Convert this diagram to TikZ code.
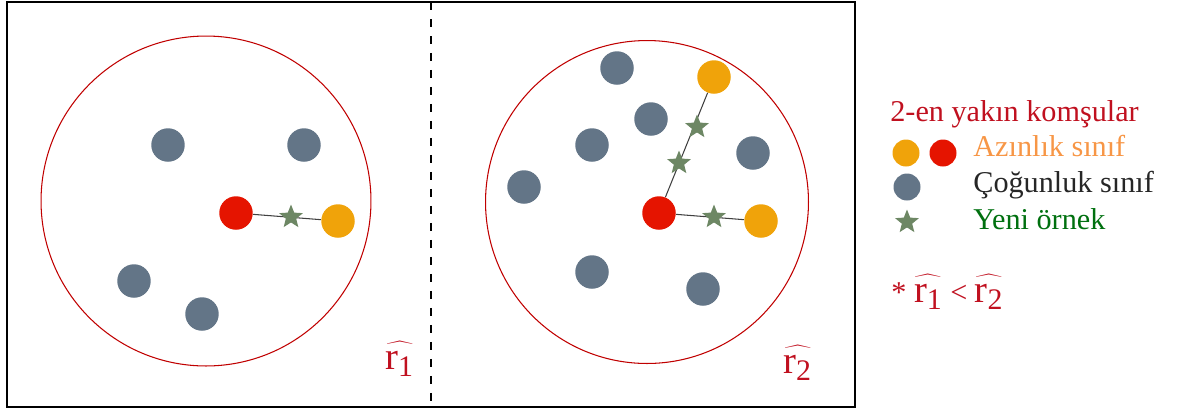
\documentclass[tikz,border=0pt]{standalone}
\usepackage{fontspec}
\setmainfont{Liberation Serif}
\usetikzlibrary{shapes.geometric}

\definecolor{majgray}{HTML}{637587}
\definecolor{minred}{HTML}{E51400}
\definecolor{minorange}{HTML}{F0A30A}
\definecolor{newgreen}{HTML}{6D8764}
\definecolor{ringred}{HTML}{C00000}
\definecolor{labred}{HTML}{C0101F}
\definecolor{laborange}{HTML}{F79646}
\definecolor{labgreen}{HTML}{00700F}

\newcommand{\radius}[1]{$\widehat{\vphantom{\mathrm{t}}\mathrm{r}_{\mbox{\fontsize{17}{20}\selectfont #1}}}$}

\tikzset{
  dot/.style={circle,inner sep=0pt,minimum size=0.67cm},
  smalldot/.style={circle,inner sep=0pt,minimum size=0.54cm},
  majdot/.style={dot,fill=majgray},
  reddot/.style={dot,fill=minred},
  orgdot/.style={dot,fill=minorange},
  newstar/.style={star,star points=5,star point ratio=2.3,fill=newgreen,inner sep=0pt,minimum size=0.5cm},
  link/.style={draw=black!75,line width=0.6pt},
  ring/.style={draw=ringred,line width=0.6pt},
  txt/.style={inner sep=0pt,anchor=base west,font=\fontsize{17.2}{20}\selectfont},
  radtxt/.style={inner sep=0pt,anchor=base west,text=labred,font=\fontsize{22}{26}\selectfont}
}

\begin{document}
\begin{tikzpicture}[x=0.02cm,y=-0.02cm]
\useasboundingbox (0,0) rectangle (1190,414);
\draw[line width=0.04cm] (7,2) rectangle (855,407);
\draw[line width=0.04cm,dash pattern=on 0.16cm off 0.18cm] (431,2) -- (431,407);
% left panel
\draw[ring] (206,201) circle (3.30cm);
\node[majdot] (lmaj1) at (168,145) {};
\node[majdot] (lmaj2) at (304,145) {};
\node[majdot] (lmaj3) at (134,281) {};
\node[majdot] (lmaj4) at (202,314) {};
\node[reddot] (lred) at (236,213) {};
\node[orgdot] (lorg) at (338,221) {};
\draw[link] (lred) -- (lorg);
\node[newstar] (lnew) at (291,217) {};
\node[radtxt] (lrad) at (385,369) {\radius{1}};
% right panel
\draw[ring] (647,202) circle (3.23cm);
\node[majdot] (rmaj1) at (617,68) {};
\node[majdot] (rmaj2) at (651,119) {};
\node[majdot] (rmaj3) at (592,145) {};
\node[majdot] (rmaj4) at (524,187) {};
\node[majdot] (rmaj5) at (753,153) {};
\node[majdot] (rmaj6) at (592,272) {};
\node[majdot] (rmaj7) at (703,289) {};
\node[reddot] (rred) at (659,213) {};
\node[orgdot] (rorgA) at (714,77) {};
\node[orgdot] (rorgB) at (761,221) {};
\draw[link] (rred) -- (rorgA);
\draw[link] (rred) -- (rorgB);
\node[newstar] (rnewA) at (697,127) {};
\node[newstar] (rnewB) at (679,163) {};
\node[newstar] (rnewC) at (714,217) {};
\node[radtxt] (rrad) at (783,373) {\radius{2}};
% legend
\node[txt,text=labred] (legtitle) at (890,121) {2-en yakın komşular};
\node[smalldot,fill=minorange] (legorg) at (906,153) {};
\node[smalldot,fill=minred] (legred) at (943,153) {};
\node[smalldot,fill=majgray] (legmaj) at (907,187) {};
\node[newstar] (legnew) at (907,222) {};
\node[txt,text=laborange] (legmin) at (973,156) {Azınlık sınıf};
\node[txt,text=black!85] (legmajtxt) at (973,192) {Çoğunluk sınıf};
\node[txt,text=labgreen] (legnewtxt) at (973,229) {Yeni örnek};
\node[txt,text=labred] (legnote) at (891,302) {* {\fontsize{22}{26}\selectfont\radius{1}}\ <\ {\fontsize{22}{26}\selectfont\radius{2}}};
\end{tikzpicture}
\end{document}
